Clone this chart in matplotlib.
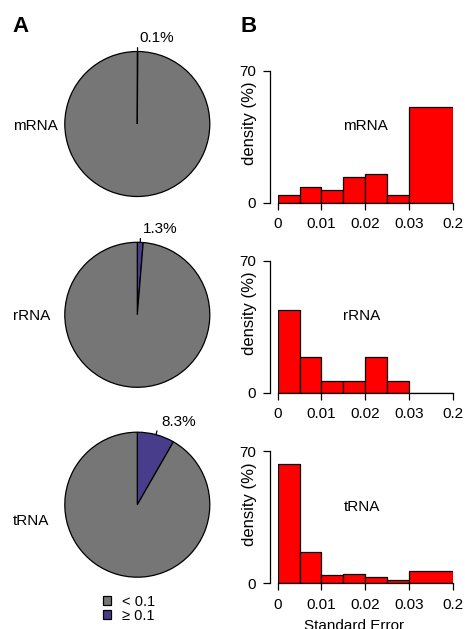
import numpy as np
import matplotlib
matplotlib.use("Agg")
import matplotlib.pyplot as plt
from matplotlib.patches import Patch

plt.rcParams['font.family'] = ['Liberation Sans', 'DejaVu Sans']
plt.rcParams['font.size'] = 11

# ---------------- data ----------------
rna_types = ["mRNA", "rRNA", "tRNA"]
pct_high = [0.1, 1.3, 8.3]          # % with SE >= 0.1
legend_labels = ["< 0.1", "\u2265 0.1"]

bin_edges = [0, 0.005, 0.01, 0.015, 0.02, 0.025, 0.03, 0.2]
density_mrna = [4.2, 8.5, 6.9, 13.6, 15.0, 4.2, 50.6]
density_rrna = [43.8, 18.9, 6.0, 6.0, 18.9, 6.0, 0.0]
density_trna = [63.5, 16.4, 4.2, 4.8, 3.4, 1.8, 6.3]
x_ticks = [0, 0.01, 0.02, 0.03, 0.2]
x_tick_labels = ["0", "0.01", "0.02", "0.03", "0.2"]
y_ticks = [0, 70]

GREY = "#767676"
BLUE = "#483D8B"
RED = "#FF0000"

W, H = 465, 629
fig = plt.figure(figsize=(W / 100, H / 100), dpi=100)

def fx(px):
    return px / W

def fy(py):
    return 1 - py / H

# piecewise-linear x scale (0-0.03 in 0.005 steps, then 0.03-0.2 as 2 units)
def fwd(x):
    x = np.asarray(x, dtype=float)
    return np.where(x <= 0.03, x / 0.005, 6 + (x - 0.03) / 0.085)

def inv(p):
    p = np.asarray(p, dtype=float)
    return np.where(p <= 6, p * 0.005, 0.03 + (p - 6) * 0.085)

# ---------------- panel B: histograms ----------------
densities = [density_mrna, density_rrna, density_trna]
bases = [202.7, 392.7, 583.3]
widths = np.diff(bin_edges)
for name, dens, base in zip(rna_types, densities, bases):
    ax = fig.add_axes([fx(277.7), fy(base), 175 / W, 132 / H])
    ax.set_xscale('function', functions=(fwd, inv))
    ax.bar(bin_edges[:-1], dens, width=widths, align='edge', color=RED,
           edgecolor='black', linewidth=0.9)
    ax.set_xlim(0, 0.2)
    ax.set_ylim(0, 70)
    ax.set_xticks(x_ticks)
    ax.set_xticklabels(x_tick_labels)
    ax.set_yticks(y_ticks)
    ax.minorticks_off()
    for s in ['top', 'right']:
        ax.spines[s].set_visible(False)
    ax.spines['left'].set_position(('outward', 5.5))
    for s in ['left', 'bottom']:
        ax.spines[s].set_linewidth(0.9)
    ax.tick_params(direction='out', length=5, width=0.9, labelsize=11)
    ax.tick_params(axis='x', pad=5.5)
    ax.tick_params(axis='y', pad=5)
    ax.patch.set_alpha(0)
    ax.text(0.015, 40.5, name, ha='left', va='center', fontsize=11)
    ax.text(-0.164, 0.6, "density (%)", rotation=90, ha='center', va='center',
            transform=ax.transAxes, fontsize=12)

fig.text(fx(354), fy(619.3), "Standard Error", ha='center', va='top', fontsize=11)

# ---------------- panel A: pies ----------------
centers = [124.0, 314.8, 504.7]
side_label_y = [126, 316, 521]
R = 72.5
for name, pct, cy, ly in zip(rna_types, pct_high, centers, side_label_y):
    ax = fig.add_axes([fx(137.3 - 100), fy(cy + 100), 200 / W, 200 / H])
    ax.pie([pct, 100 - pct], colors=[BLUE, GREY], startangle=90,
           counterclock=False, radius=1,
           wedgeprops=dict(edgecolor='black', linewidth=0.9))
    lim = 100 / R
    ax.set_xlim(-lim, lim)
    ax.set_ylim(-lim, lim)
    ax.axis('off')
    mid = np.deg2rad(pct / 2 * 3.6)
    sx, cyy = np.sin(mid), np.cos(mid)
    ax.plot([sx * 1.0, sx * 1.05], [cyy * 1.0, cyy * 1.05], color='black', lw=0.9,
            clip_on=False)
    ax.text(sx * 1.18 + 0.03, cyy * 1.18, "%.1f%%" % pct, ha='left', va='center',
            fontsize=11)
    fig.text(fx(13), fy(ly), name, ha='left', va='center', fontsize=11)

handles = [Patch(facecolor=GREY, edgecolor='black', linewidth=0.9, label=legend_labels[0]),
           Patch(facecolor=BLUE, edgecolor='black', linewidth=0.9, label=legend_labels[1])]
fig.legend(handles=handles, loc='upper left', bbox_to_anchor=(fx(103), fy(595)),
           frameon=False, fontsize=10.5, handlelength=0.55, handleheight=0.55,
           handletextpad=0.75, labelspacing=0.0, borderpad=0, borderaxespad=0)

fig.text(fx(12), fy(16), "A", ha='left', va='top', fontsize=16, fontweight='bold')
fig.text(fx(240.5), fy(16), "B", ha='left', va='top', fontsize=16, fontweight='bold')

fig.savefig("out.png", dpi=100)
